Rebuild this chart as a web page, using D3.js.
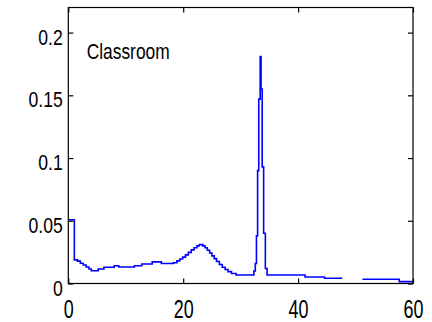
<!DOCTYPE html>
<html>
<head>
<meta charset="utf-8">
<script src="https://cdn.jsdelivr.net/npm/d3@7"></script>
<style>
  body { margin: 0; background: #fff; }
  svg { display: block; }
</style>
</head>
<body>
<script>
// histogram: left edge of each step and its height
const binStart = [0, 1.05, 1.6, 2.1, 2.6, 3.1, 3.6, 4.0, 5.2, 6.2, 8.0, 8.8, 11.5, 12.8, 14.6, 16.2, 18.3,
  18.9, 19.4, 19.9, 20.4, 20.9, 21.4, 21.9, 22.4, 22.8, 23.4, 23.8, 24.2, 24.6, 25.0, 25.4, 25.8, 26.3,
  26.8, 27.3, 27.8, 28.4, 29.2, 32.3, 32.55, 32.75, 32.95, 33.15, 33.4, 33.55, 33.75, 34.0, 34.3, 34.6,
  41.2, 44.6, 47.7, 48.0, 51.2, 57.6, 60];
const density = [0.0508, 0.0188, 0.0178, 0.0162, 0.0148, 0.0132, 0.0115, 0.0102, 0.0115, 0.0130, 0.0142, 0.0132,
  0.0142, 0.0155, 0.0172, 0.0160, 0.0166, 0.0180, 0.0195, 0.0210, 0.0228, 0.0248, 0.0268, 0.0285, 0.0300,
  0.0310, 0.0300, 0.0285, 0.0265, 0.0243, 0.0220, 0.0198, 0.0175, 0.0152, 0.0130, 0.0112, 0.0095, 0.0080,
  0.0068, 0.0100, 0.0160, 0.0380, 0.0900, 0.1470, 0.1810, 0.1550, 0.0930, 0.0400, 0.0120, 0.0068,
  0.0052, 0.0042, 0.0042, null, 0.0034, 0.0015, 0.0015];

const xTicks = [0, 20, 40, 60];
const yTicks = [0, 0.05, 0.1, 0.15, 0.2];
const label = "Classroom";

const width = 432, height = 322;
const margin = {top: 7.5, right: 19, bottom: 38.5, left: 68.3};

const x = d3.scaleLinear().domain([0, 60]).range([margin.left, width - margin.right]);
const y = d3.scaleLinear().domain([0, 0.22]).range([height - margin.bottom, margin.top]);

const svg = d3.select("body").append("svg")
  .attr("width", width)
  .attr("height", height)
  .style("font-family", "'Liberation Sans', Arial, sans-serif");

const pts = binStart.map((d, i) => [d, density[i]]);

const line = d3.line()
  .defined(d => d[1] != null)
  .x(d => x(d[0]))
  .y(d => y(d[1]))
  .curve(d3.curveStepAfter);

svg.append("path")
  .datum(pts)
  .attr("fill", "none")
  .attr("stroke", "#0000ff")
  .attr("stroke-width", 1.6)
  .attr("d", line);

// axes, ticks pointing inward like matlab
const fmt = d => d === 0 ? "0" : String(d);

svg.append("g")
  .attr("transform", `translate(0,${y(0)})`)
  .call(d3.axisBottom(x).tickValues(xTicks).tickSizeInner(-5).tickSizeOuter(0).tickFormat(fmt))
  .call(g => g.select(".domain").remove())
  .call(g => g.selectAll(".tick line").attr("stroke", "#000").attr("stroke-width", 1.2))
  .call(g => g.selectAll(".tick text")
    .attr("y", 0).attr("dy", null)
    .attr("fill", "#000")
    .attr("font-size", 26)
    .attr("transform", "translate(0,34) scale(0.69,1)"));

svg.append("g")
  .attr("transform", `translate(0,${y.range()[1]})`)
  .call(d3.axisTop(x).tickValues(xTicks).tickSizeInner(-5).tickSizeOuter(0).tickFormat(""))
  .call(g => g.select(".domain").remove())
  .call(g => g.selectAll(".tick line").attr("stroke", "#000").attr("stroke-width", 1.2));

svg.append("g")
  .attr("transform", `translate(${x(0)},0)`)
  .call(d3.axisLeft(y).tickValues(yTicks).tickSizeInner(-5).tickSizeOuter(0).tickFormat(fmt))
  .call(g => g.select(".domain").remove())
  .call(g => g.selectAll(".tick line").attr("stroke", "#000").attr("stroke-width", 1.2))
  .call(g => g.selectAll(".tick text")
    .attr("x", 0).attr("dy", null)
    .attr("fill", "#000")
    .attr("font-size", 22)
    .attr("transform", "translate(-5.5,11.5) scale(0.8,1)"));

svg.append("g")
  .attr("transform", `translate(${x(60)},0)`)
  .call(d3.axisRight(y).tickValues(yTicks).tickSizeInner(-5).tickSizeOuter(0).tickFormat(""))
  .call(g => g.select(".domain").remove())
  .call(g => g.selectAll(".tick line").attr("stroke", "#000").attr("stroke-width", 1.2));

// box
svg.append("rect")
  .attr("x", x(0))
  .attr("y", y.range()[1])
  .attr("width", x(60) - x(0))
  .attr("height", y(0) - y.range()[1])
  .attr("fill", "none")
  .attr("stroke", "#000")
  .attr("stroke-width", 1.2);

svg.append("text")
  .attr("transform", `translate(${x(3.2)},${y(0.179)}) scale(0.79,1)`)
  .attr("font-size", 22)
  .attr("fill", "#000")
  .text(label);
</script>
</body>
</html>
